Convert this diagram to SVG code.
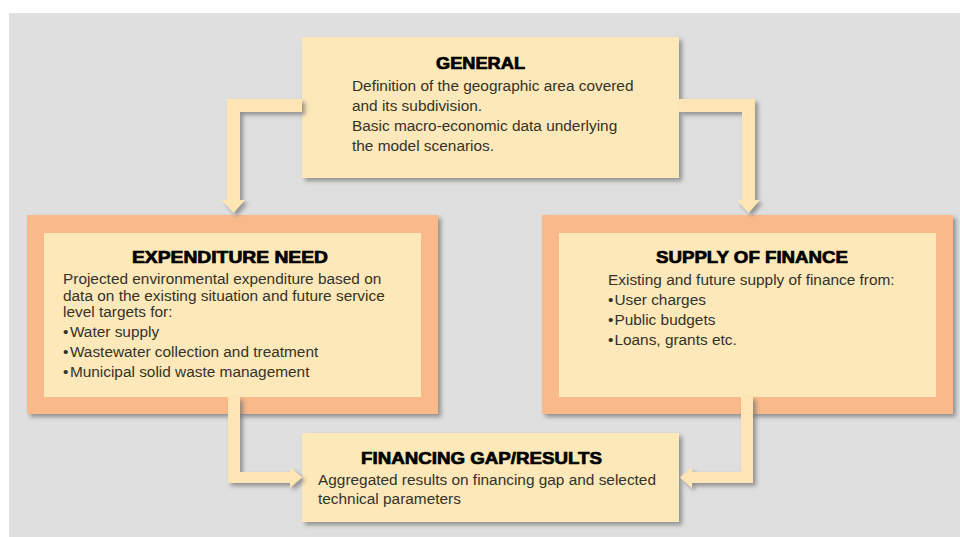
<svg xmlns="http://www.w3.org/2000/svg" width="960" height="537" viewBox="0 0 960 537">
<defs>
<filter id="sh" x="-10%" y="-10%" width="130%" height="130%">
<feDropShadow dx="3" dy="3" stdDeviation="2.2" flood-color="#707070" flood-opacity="0.7"/>
</filter>
<style>
.bg{fill:#dfdfdf}
.box{fill:#fde8b9}
.frame{fill:#f9b98b}
.arrow{fill:#fde6b4}
.title{font-family:"Liberation Sans",Arial,sans-serif;font-weight:bold;font-size:16.5px;fill:#000;stroke:#000;stroke-width:0.7px;text-anchor:middle}
.body{font-family:"Liberation Sans",Arial,sans-serif;font-size:15.4px;fill:#33332a}
</style>
</defs>
<rect class="bg" x="9" y="13" width="951" height="524"/>

<g id="general">
<rect class="box" x="302" y="37" width="377" height="141" filter="url(#sh)"/>
<text class="title" x="480.5" y="69" textLength="89" lengthAdjust="spacingAndGlyphs">GENERAL</text>
<text class="body" x="352" y="91">Definition of the geographic area covered</text>
<text class="body" x="352" y="111">and its subdivision.</text>
<text class="body" x="352" y="131">Basic macro-economic data underlying</text>
<text class="body" x="352" y="151">the model scenarios.</text>
</g>

<g id="expenditure-need">
<rect class="frame" x="27" y="215" width="411" height="199" filter="url(#sh)"/>
<rect class="box" x="44" y="233" width="377" height="164"/>
<text class="title" x="230" y="263" textLength="196" lengthAdjust="spacingAndGlyphs">EXPENDITURE NEED</text>
<text class="body" x="63" y="284">Projected environmental expenditure based on</text>
<text class="body" x="63" y="301">data on the existing situation and future service</text>
<text class="body" x="63" y="317">level targets for:</text>
<text class="body" x="63" y="337">•<tspan dx="1.5">Water supply</tspan></text>
<text class="body" x="63" y="357">•<tspan dx="1.5">Wastewater collection and treatment</tspan></text>
<text class="body" x="63" y="377">•<tspan dx="1.5">Municipal solid waste management</tspan></text>
</g>

<g id="supply-of-finance">
<rect class="frame" x="542" y="215" width="411" height="199" filter="url(#sh)"/>
<rect class="box" x="559" y="233" width="377" height="164"/>
<text class="title" x="752" y="263" textLength="192" lengthAdjust="spacingAndGlyphs">SUPPLY OF FINANCE</text>
<text class="body" x="608" y="285">Existing and future supply of finance from:</text>
<text class="body" x="608" y="305">•<tspan dx="1">User charges</tspan></text>
<text class="body" x="608" y="325">•<tspan dx="1">Public budgets</tspan></text>
<text class="body" x="608" y="345">•<tspan dx="1">Loans, grants etc.</tspan></text>
</g>

<g id="financing-gap">
<rect class="box" x="302" y="433" width="377" height="89" filter="url(#sh)"/>
<text class="title" x="481.5" y="464" textLength="241" lengthAdjust="spacingAndGlyphs">FINANCING GAP/RESULTS</text>
<text class="body" x="318" y="485">Aggregated results on financing gap and selected</text>
<text class="body" x="318" y="504">technical parameters</text>
</g>

<g id="connectors" filter="url(#sh)">
<path class="arrow" d="M302,99 H227 V200 H222 L233.5,213 L245,200 H240 V112 H302 Z"/>
<path class="arrow" d="M679,99 H755 V200 H760 L748.5,213 L737,200 H742 V112 H679 Z"/>
<path class="arrow" d="M228,397 H240 V472 H290 V467 L302,477.5 L290,488 V483 H228 Z"/>
<path class="arrow" d="M753,397 H741 V472 H692 V467 L680,477.5 L692,488 V483 H753 Z"/>
</g>
</svg>
